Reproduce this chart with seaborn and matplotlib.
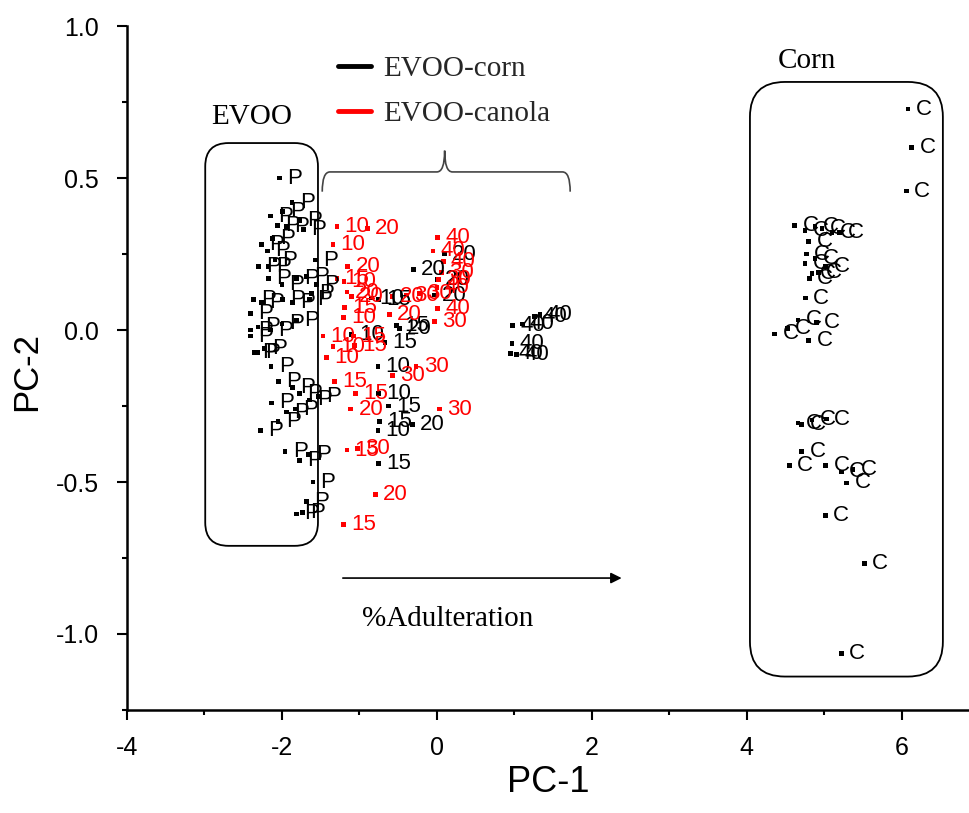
import matplotlib
matplotlib.use("Agg")
import matplotlib.pyplot as plt
import seaborn as sns
import pandas as pd
import numpy as np
from matplotlib.patches import FancyBboxPatch, PathPatch
from matplotlib.path import Path
from matplotlib.lines import Line2D
from matplotlib.ticker import MultipleLocator

# ---------------- data ----------------
evoo_x = [-2.03, -1.87, -2.15, -1.99, -2.06, -1.94, -1.77, -2.12, -2.26, -2.19, -1.57, -2.30, -2.18,
          -2.09, -2.17, -2.00, -1.81, -1.68, -1.55, -2.37, -2.26, -2.41, -1.99, -1.86, -1.64, -2.41,
          -2.41, -2.31, -2.15, -2.00, -1.81, -2.32, -2.22, -1.72, -1.62,
          -2.35, -2.14, -2.04, -1.86, -2.13, -1.77, -1.64, -1.53, -1.94, -2.05, -2.28, -1.83, -1.96,
          -1.77, -1.66, -1.60, -1.68, -1.81, -1.73]
evoo_y = [0.50, 0.42, 0.375, 0.39, 0.345, 0.34, 0.36, 0.30, 0.28, 0.26, 0.23, 0.21, 0.21,
          0.23, 0.17, 0.15, 0.17, 0.175, 0.15, 0.10, 0.09, 0.055, 0.10, 0.09, 0.10, 0.0,
          -0.02, 0.01, 0.0, 0.02, 0.03, -0.075, -0.06, 0.33, 0.12,
          -0.075, -0.12, -0.17, -0.19, -0.24, -0.21, -0.23, -0.22, -0.27, -0.30, -0.33, -0.26, -0.40,
          -0.43, -0.41, -0.50, -0.565, -0.605, -0.60]

corn_x = [6.08, 6.13, 6.06, 4.62, 4.75, 4.88, 4.97, 5.10, 5.20, 4.80, 4.77, 4.75, 4.88, 5.02,
          4.84, 4.81, 4.92, 4.76, 4.66, 4.52, 4.36, 4.80, 4.90, 4.66, 4.71, 4.84, 5.03, 4.71,
          4.55, 5.02, 5.22, 5.29, 5.37, 5.01, 5.52, 5.22]
corn_y = [0.727, 0.60, 0.457, 0.345, 0.326, 0.34, 0.335, 0.32, 0.32, 0.29, 0.25, 0.22, 0.235, 0.21,
          0.185, 0.17, 0.19, 0.105, 0.033, 0.006, -0.013, -0.035, 0.026, -0.306, -0.31, -0.296,
          -0.293, -0.40, -0.447, -0.447, -0.467, -0.503, -0.46, -0.61, -0.767, -1.063]

mix_corn_x = [-0.84, -0.75, -0.30, 0.10, 0.01, -0.03, -0.52, -0.48, -1.10, -0.67, -0.76, -0.75,
              -0.62, -0.74, -0.32, -0.76, -0.75, 0.98, 1.10, 1.26, 1.33, 0.97, 0.95, 1.03]
mix_corn_y = [0.105, 0.10, 0.20, 0.25, 0.165, 0.115, 0.016, 0.005, -0.015, -0.04, -0.12, -0.21,
              -0.25, -0.30, -0.31, -0.33, -0.44, 0.016, 0.02, 0.045, 0.05, -0.045, -0.077, -0.08]
mix_corn_lab = ["10", "15", "20", "20", "20", "20", "15", "20", "10", "15", "10", "10",
                "15", "15", "20", "10", "15", "40", "40", "40", "40", "40", "40", "40"]

mix_canola_x = [-1.29, -0.90, -1.34, -1.15, -1.29, -1.20, -1.16, -1.10, -1.19, -1.21, -1.47, -1.08,
                -1.34, -1.06, -1.42, -0.27, -0.57, -1.32, -1.05, -1.11, 0.03, -1.16, -1.03, -0.79,
                -1.21, -0.22, -0.39, -0.58, -0.61, 0.01, -0.05, 0.06, 0.00, 0.01, -0.03, 0.02, 0.08]
mix_canola_y = [0.34, 0.335, 0.28, 0.21, 0.17, 0.16, 0.125, 0.11, 0.075, 0.04, -0.02, -0.02,
                -0.055, -0.05, -0.09, -0.12, -0.15, -0.17, -0.21, -0.26, -0.26, -0.395, -0.39, -0.54,
                -0.64, 0.12, 0.115, 0.11, 0.05, 0.305, 0.26, 0.19, 0.14, 0.07, 0.027, 0.165, 0.225]
mix_canola_lab = ["10", "20", "10", "20", "15", "10", "20", "20", "15", "10", "10", "15",
                  "10", "15", "10", "30", "30", "15", "15", "20", "30", "15", "30", "20",
                  "15", "30", "30", "20", "20", "40", "40", "30", "40", "40", "30", "30", "40"]

legend_labels = ["EVOO-corn", "EVOO-canola"]
group_colors = ["black", "red"]

# ---------------- figure ----------------
sns.set_theme(style="white")
plt.rcParams["font.family"] = ["Liberation Sans", "DejaVu Sans"]

fig = plt.figure(figsize=(9.7, 8.13), dpi=100)
ax = fig.add_axes([0.1309, 0.1267, 0.8691, 0.8413])

df = pd.concat([
    pd.DataFrame({"x": evoo_x, "y": evoo_y, "lab": ["P"] * len(evoo_x), "grp": "pure"}),
    pd.DataFrame({"x": corn_x, "y": corn_y, "lab": ["C"] * len(corn_x), "grp": "pure"}),
    pd.DataFrame({"x": mix_corn_x, "y": mix_corn_y, "lab": mix_corn_lab, "grp": "corn"}),
    pd.DataFrame({"x": mix_canola_x, "y": mix_canola_y, "lab": mix_canola_lab, "grp": "canola"}),
], ignore_index=True)

pal = {"pure": "black", "corn": "black", "canola": "red"}
sns.scatterplot(data=df, x="x", y="y", hue="grp", palette=pal, marker="s", s=12,
                linewidth=0, legend=False, ax=ax)

for _, r in df.iterrows():
    ax.annotate(r["lab"], (r["x"], r["y"]), xytext=(5.5, 0), textcoords="offset points",
                va="center", ha="left", fontsize=16, color=pal[r["grp"]])

ax.set_xlim(-4, 6.88)
ax.set_ylim(-1.25, 1.0)
ax.xaxis.set_minor_locator(MultipleLocator(1))
ax.yaxis.set_minor_locator(MultipleLocator(0.25))
ax.set_yticks([-1.0, -0.5, 0.0, 0.5, 1.0])
ax.set_yticklabels(["-1.0", "-0.5", "0.0", "0.5", "1.0"])
ax.set_xticks([-4, -2, 0, 2, 4, 6])
ax.set_xticklabels(["-4", "-2", "0", "2", "4", "6"])
ax.tick_params(axis="both", which="major", direction="out", length=7, width=1.5,
               labelsize=18, color="black", labelcolor="black", bottom=True, left=True)
ax.tick_params(axis="both", which="minor", direction="out", length=3.5, width=1.5,
               color="black", bottom=True, left=True)
ax.tick_params(axis="x", which="major", pad=12)
ax.tick_params(axis="y", which="major", pad=13)
for s in ["top", "right"]:
    ax.spines[s].set_visible(False)
for s in ["left", "bottom"]:
    ax.spines[s].set_color("black")
    ax.spines[s].set_linewidth(1.8)
ax.set_xlabel("PC-1", fontsize=26, color="black")
ax.set_ylabel("PC-2", fontsize=25, color="black")
ax.xaxis.set_label_coords(0.5, -0.08)
ax.yaxis.set_label_coords(-0.10, 0.495)

# ---------------- annotations ----------------
aspect = 77.5 / 304.0
serif = ["Liberation Serif", "DejaVu Serif"]
box1 = FancyBboxPatch((-2.99, -0.71), 1.455, 1.325,
                      boxstyle="round,pad=0,rounding_size=0.3", mutation_aspect=aspect,
                      fill=False, ec="black", lw=1.3, zorder=1)
box2 = FancyBboxPatch((4.04, -1.14), 2.49, 1.956,
                      boxstyle="round,pad=0,rounding_size=0.45", mutation_aspect=aspect,
                      fill=False, ec="black", lw=1.3, zorder=1)
ax.add_patch(box1)
ax.add_patch(box2)
ax.text(-2.39, 0.70, "EVOO", fontsize=21, family=serif, ha="center", va="center", color="black")
ax.text(4.78, 0.885, "Corn", fontsize=21, family=serif, ha="center", va="center", color="black")

# curly brace
x0, x1, xc = -1.48, 1.72, 0.10
yl, ye, yt = 0.52, 0.455, 0.59
rx = 0.1
verts = [(x0, ye), (x0, yl), (x0 + rx, yl), (xc - rx, yl), (xc, yl), (xc, yt),
         (xc, yl), (xc + rx, yl), (x1 - rx, yl), (x1, yl), (x1, ye)]
codes = [Path.MOVETO, Path.CURVE3, Path.CURVE3, Path.LINETO, Path.CURVE3, Path.CURVE3,
         Path.CURVE3, Path.CURVE3, Path.LINETO, Path.CURVE3, Path.CURVE3]
ax.add_patch(PathPatch(Path(verts, codes), fill=False, ec="#444444", lw=1.2))

# arrow
ax.annotate("", xy=(2.42, -0.816), xytext=(-1.25, -0.816),
            arrowprops=dict(arrowstyle="-|>", color="black", lw=1.2, mutation_scale=16))
ax.text(-0.97, -0.95, "%Adulteration", fontsize=21, family=serif, ha="left", va="center",
        color="black")

handles = [Line2D([0], [0], color=c, lw=3.5) for c in group_colors]
leg = ax.legend(handles, legend_labels, loc="upper left", bbox_to_anchor=(0.25, 0.957),
                frameon=False, handlelength=1.15, handletextpad=0.4, labelspacing=0.65,
                borderpad=0, borderaxespad=0, prop={"family": serif, "size": 21})

fig.savefig("out.png", dpi=100)
